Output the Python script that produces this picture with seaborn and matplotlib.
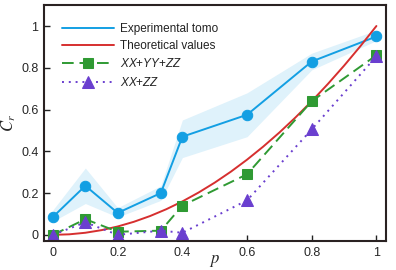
import numpy as np
import pandas as pd
import matplotlib
matplotlib.use("Agg")
import matplotlib.pyplot as plt
import seaborn as sns

# measured points
p = [0, 0.1, 0.2, 1/3, 0.4, 0.6, 0.8, 1.0]
exp_tomo = [0.086, 0.235, 0.105, 0.20, 0.47, 0.575, 0.83, 0.95]
exp_low = [0.065, 0.15, 0.085, 0.165, 0.37, 0.47, 0.79, 0.93]
exp_high = [0.12, 0.32, 0.13, 0.235, 0.55, 0.68, 0.87, 0.98]
xx_yy_zz = [0.0, 0.075, 0.015, 0.02, 0.14, 0.29, 0.64, 0.86]
xx_zz = [0.0, 0.06, 0.0, 0.02, 0.01, 0.165, 0.505, 0.855]

# theoretical curve
p_theo = [0, 0.05, 0.1, 0.15, 0.2, 0.25, 0.3, 0.35, 0.4, 0.45, 0.5,
          0.55, 0.6, 0.65, 0.7, 0.75, 0.8, 0.85, 0.9, 0.95, 1.0]
theo = [0, 0.0025, 0.01, 0.0225, 0.04, 0.0625, 0.09, 0.1225, 0.16, 0.2025, 0.25,
        0.3025, 0.36, 0.4225, 0.49, 0.5625, 0.64, 0.7225, 0.81, 0.9025, 1.0]

sns.set_style("white")
plt.rcParams['font.family'] = ['Liberation Sans', 'DejaVu Sans']
plt.rcParams['mathtext.fontset'] = 'custom'
plt.rcParams['mathtext.it'] = 'Liberation Sans:italic'
plt.rcParams['mathtext.rm'] = 'Liberation Sans'

fig = plt.figure(figsize=(3.96, 2.7), dpi=100)
ax = fig.add_axes([0.111, 0.107, 0.864, 0.874])

blue = '#139fe3'
ax.fill_between(p, exp_low, exp_high, color='#dff2fb', lw=0)
sns.lineplot(x=p, y=exp_tomo, ax=ax, color=blue, lw=1.4, marker='o', ms=7.5,
             mec=blue, label='Experimental tomo')
sns.lineplot(x=p_theo, y=theo, ax=ax, color='#d62f2f', lw=1.4,
             label='Theoretical values')
sns.lineplot(x=p, y=xx_yy_zz, ax=ax, color='#2f9a33', lw=1.4, marker='s', ms=6.5,
             mec='#2f9a33', label='$XX$+$YY$+$ZZ$')
ax.lines[-1].set_linestyle((0, (6, 3)))
sns.lineplot(x=p, y=xx_zz, ax=ax, color='#6a3fcf', lw=1.4, marker='^', ms=8,
             mec='#6a3fcf', label='$XX$+$ZZ$')
ax.lines[-1].set_linestyle((0, (1, 2.5)))

ax.set_xlim(-0.028, 1.03)
ax.set_ylim(-0.03, 1.10)
ax.set_xticks([0, 0.2, 0.4, 0.6, 0.8, 1])
ax.set_xticklabels(['0', '0.2', '0.4', '0.6', '0.8', '1'])
ax.set_yticks([0, 0.2, 0.4, 0.6, 0.8, 1])
ax.set_yticklabels(['0', '0.2', '0.4', '0.6', '0.8', '1'])
ax.tick_params(direction='in', length=4, width=1, labelsize=9, color='#222222',
               bottom=True, left=True, pad=4)
for s in ax.spines.values():
    s.set_color('#2a2222')
    s.set_linewidth(1.5)

ax.set_xlabel('$p$', fontsize=12, labelpad=-4, math_fontfamily='stix')
ax.set_ylabel('$C_r$', fontsize=12, labelpad=2, math_fontfamily='stix')

leg = ax.legend(loc='upper left', frameon=False, fontsize=8.5, handlelength=4.4,
                borderaxespad=0.3, labelspacing=0.45, handletextpad=0.45,
                bbox_to_anchor=(0.03, 0.96))
leg.legend_handles[0].set_marker('')
for t in leg.get_texts():
    t.set_color('#222222')

fig.savefig('out.png', dpi=100)
